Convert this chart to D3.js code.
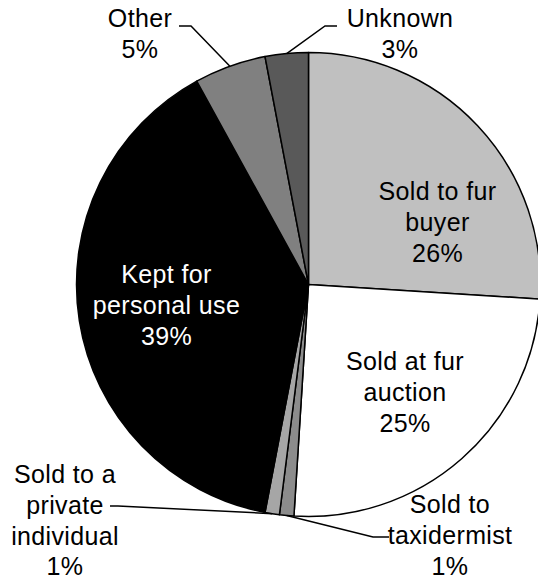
<!DOCTYPE html>
<html>
<head>
<meta charset="utf-8">
<script src="https://cdn.jsdelivr.net/npm/d3@7"></script>
<style>
  html, body { margin: 0; padding: 0; background: #fff; }
  svg { display: block; }
  text { font-family: "Liberation Sans", Arial, sans-serif; font-size: 25px; letter-spacing: 0.35px; }
</style>
</head>
<body>
<svg id="chart" width="538" height="586"></svg>
<script>
// Disposition of harvested pelts, clockwise from 12 o'clock
const categories = [
  "Sold to fur buyer",
  "Sold at fur auction",
  "Sold to taxidermist",
  "Sold to a private individual",
  "Kept for personal use",
  "Other",
  "Unknown"
];
const shares = [26, 25, 1, 1, 39, 5, 3];
const fills = ["#c0c0c0", "#ffffff", "#8c8c8c", "#a6a6a6", "#000000", "#808080", "#595959"];
const textColors = ["#000", "#000", "#000", "#000", "#fff", "#000", "#000"];
const labelLines = [
  ["Sold to fur", "buyer"],
  ["Sold at fur", "auction"],
  ["Sold to", "taxidermist"],
  ["Sold to a", "private", "individual"],
  ["Kept for", "personal use"],
  ["Other"],
  ["Unknown"]
];

const W = 538, H = 586;
const cx = 308.5, cy = 284.5, R = 232;
const lineH = 30.8;

// label block placement: x = centre, y = first baseline;
// leader: [elbow x, elbow y, end x] for labels placed outside the pie
const labelPos = [
  { x: 437.5, y: 200 },
  { x: 405, y: 370 },
  { x: 450, y: 513, leader: [373, 537, 389] },
  { x: 65, y: 483, leader: [118, 506, 110] },
  { x: 166.5, y: 283 },
  { x: 140, y: 27, leader: [191, 26, 179] },
  { x: 400, y: 27, leader: [325, 26, 337] }
];

const data = categories.map((c, i) => ({
  name: c, value: shares[i], fill: fills[i], tc: textColors[i],
  lines: labelLines[i].concat([shares[i] + "%"]), pos: labelPos[i]
}));

const svg = d3.select("#chart");
const g = svg.append("g").attr("transform", `translate(${cx},${cy})`);

const pie = d3.pie().value(d => d.value).sort(null);
const arc = d3.arc().innerRadius(0).outerRadius(R);
const arcs = pie(data);

g.selectAll("path.slice")
  .data(arcs)
  .join("path")
  .attr("class", "slice")
  .attr("d", arc)
  .attr("fill", d => d.data.fill)
  .attr("stroke", "#000")
  .attr("stroke-width", 1.5)
  .attr("stroke-linejoin", "round");

// leader lines from slice edge to outside labels
const edge = d3.arc().innerRadius(R).outerRadius(R);
arcs.filter(d => d.data.pos.leader).forEach(d => {
  const [ex, ey] = edge.centroid(d);
  const [lx, ly, tx] = d.data.pos.leader;
  g.append("polyline")
    .attr("points", [[ex, ey], [lx - cx, ly - cy], [tx - cx, ly - cy]].map(p => p.join(",")).join(" "))
    .attr("fill", "none")
    .attr("stroke", "#000")
    .attr("stroke-width", 1.5);
});

// labels
const labels = svg.append("g");
data.forEach(d => {
  const t = labels.append("text")
    .attr("text-anchor", "middle")
    .attr("fill", d.tc);
  d.lines.forEach((ln, k) => {
    t.append("tspan")
      .attr("x", d.pos.x)
      .attr("y", d.pos.y + k * lineH)
      .text(ln);
  });
});
</script>
</body>
</html>
